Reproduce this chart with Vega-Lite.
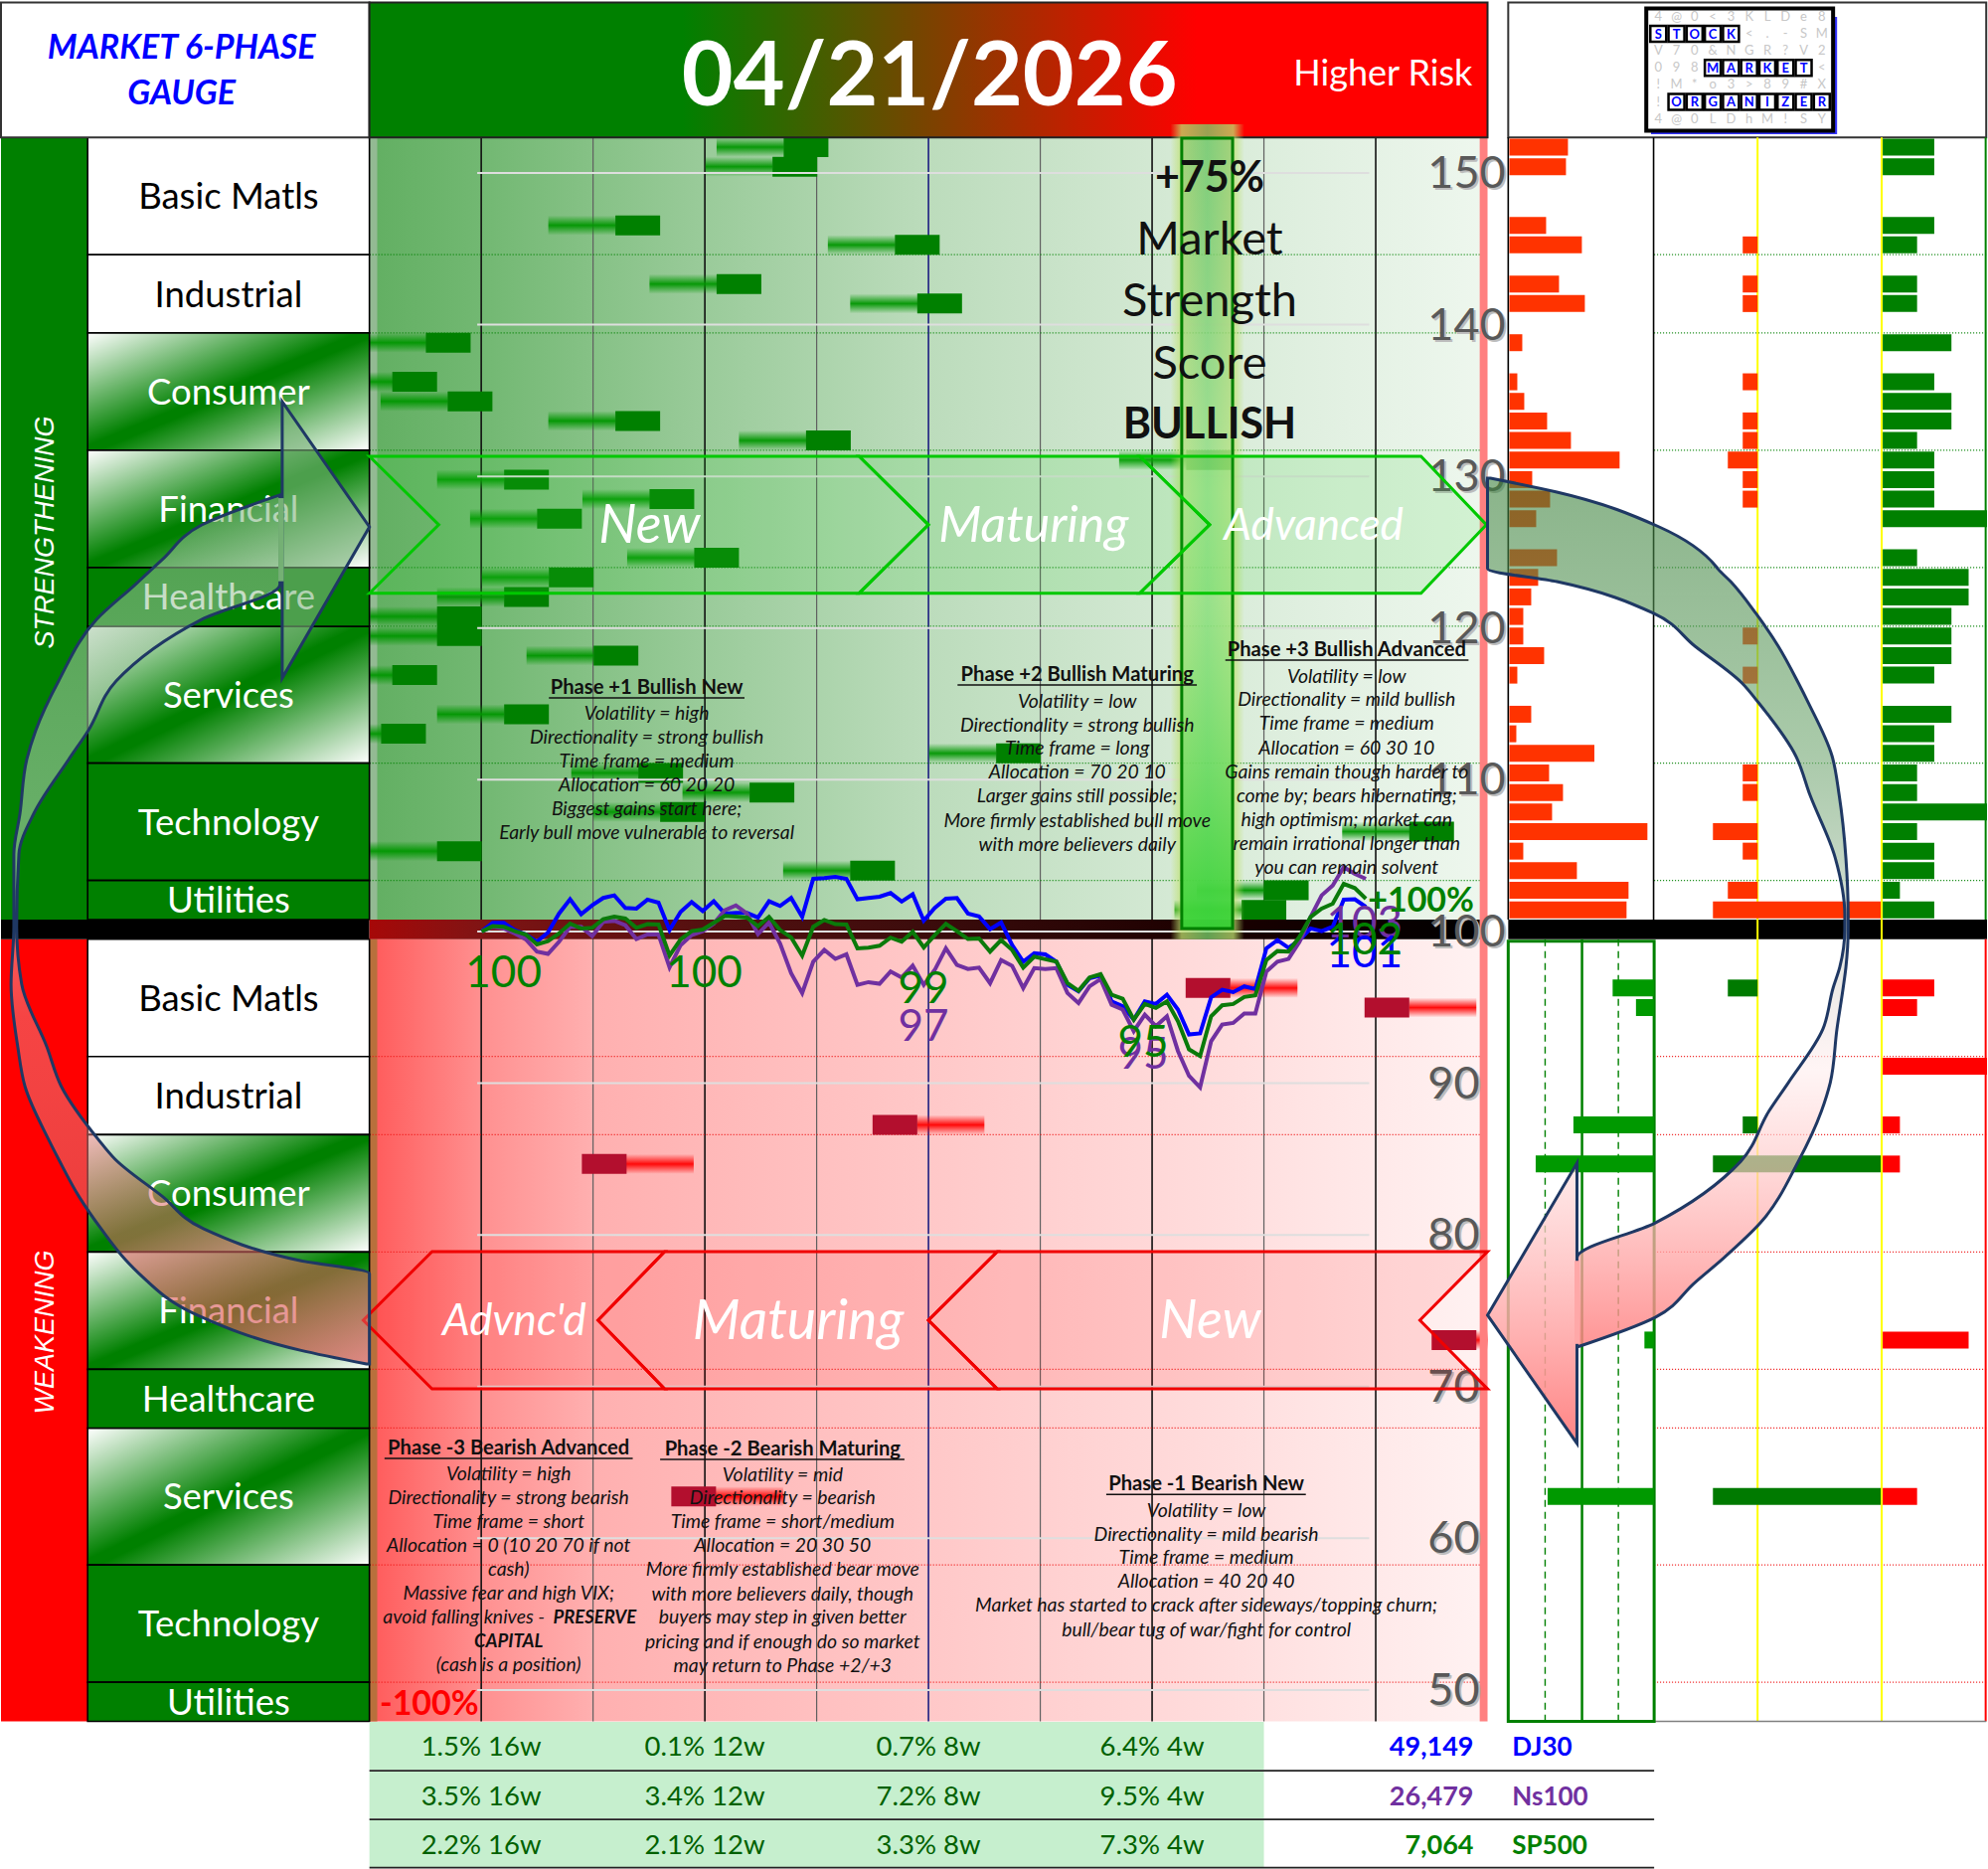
{"$schema":"https://vega.github.io/schema/vega-lite/v6.json","width":2000,"height":1880,"padding":0,"autosize":{"type":"fit","contains":"padding"},"background":"white",
"config":{"view":{"stroke":null},"axis":{"disable":true},"legend":{"disable":true},"text":{"font":"Lato","baseline":"middle","align":"center","dy":2}},
"resolve":{"scale":{"x":"independent","y":"independent"}},
"datasets":{"prices":[
{"session":0,"dj":100,"ns":100,"sp":100},{"session":1,"dj":100.57,"ns":100.31,"sp":100.35},{"session":2,"dj":100.57,"ns":100.2,"sp":100.31},{"session":3,"dj":100.09,"ns":99.87,"sp":100.02},{"session":4,"dj":99.8,"ns":99.48,"sp":99.8},{"session":5,"dj":99.32,"ns":98.67,"sp":99.15},{"session":6,"dj":99.93,"ns":98.52,"sp":99.37},{"session":7,"dj":101.18,"ns":99.32,"sp":99.87},{"session":8,"dj":102.12,"ns":100.31,"sp":100.52},{"session":9,"dj":101.14,"ns":100.31,"sp":100.2},
{"session":10,"dj":101.72,"ns":99.69,"sp":100.24},{"session":11,"dj":102.21,"ns":100.63,"sp":100.81},{"session":12,"dj":102.38,"ns":100.7,"sp":100.98},{"session":13,"dj":101.55,"ns":100.41,"sp":100.85},{"session":14,"dj":101.51,"ns":99.5,"sp":100.24},{"session":15,"dj":102.1,"ns":99.8,"sp":100.48},{"session":16,"dj":101.9,"ns":99.8,"sp":100.46},{"session":17,"dj":100.09,"ns":97.64,"sp":98.41},{"session":18,"dj":101.29,"ns":99.1,"sp":99.48},{"session":19,"dj":101.94,"ns":99.76,"sp":100.02},
{"session":20,"dj":101.35,"ns":100.02,"sp":100.13},{"session":21,"dj":101.99,"ns":100.52,"sp":100.57},{"session":22,"dj":101.18,"ns":101.4,"sp":101.03},{"session":23,"dj":101.22,"ns":101.72,"sp":100.98},{"session":24,"dj":101.22,"ns":101.18,"sp":100.92},{"session":25,"dj":100.92,"ns":99.83,"sp":100.35},{"session":26,"dj":101.99,"ns":100.59,"sp":100.96},{"session":27,"dj":101.68,"ns":99.21,"sp":100.09},{"session":28,"dj":102.21,"ns":97.25,"sp":99.61},{"session":29,"dj":100.96,"ns":95.94,"sp":98.41},
{"session":30,"dj":103.47,"ns":98.01,"sp":100.31},{"session":31,"dj":103.52,"ns":98.78,"sp":100.76},{"session":32,"dj":103.6,"ns":98.19,"sp":100.48},{"session":33,"dj":103.47,"ns":98.49,"sp":100.46},{"session":34,"dj":102.12,"ns":96.48,"sp":98.89},{"session":35,"dj":102.21,"ns":96.66,"sp":98.93},{"session":36,"dj":102.29,"ns":96.55,"sp":99.06},{"session":37,"dj":102.53,"ns":97.36,"sp":99.59},{"session":38,"dj":101.97,"ns":96.97,"sp":99.32},{"session":39,"dj":102.45,"ns":97.75,"sp":99.98},
{"session":40,"dj":100.72,"ns":96.48,"sp":98.95},{"session":41,"dj":101.55,"ns":97.47,"sp":99.76},{"session":42,"dj":102.16,"ns":98.89,"sp":100.5},{"session":43,"dj":102.21,"ns":97.79,"sp":100.02},{"session":44,"dj":101.18,"ns":97.53,"sp":99.5},{"session":45,"dj":101,"ns":97.62,"sp":99.54},{"session":46,"dj":100.15,"ns":96.59,"sp":98.67},{"session":47,"dj":100.59,"ns":98.12,"sp":99.43},{"session":48,"dj":99.1,"ns":97.73,"sp":98.78},{"session":49,"dj":98.01,"ns":96.27,"sp":97.62},
{"session":50,"dj":98.56,"ns":97.58,"sp":98.34},{"session":51,"dj":98.49,"ns":97.53,"sp":98.17},{"session":52,"dj":98.01,"ns":97.58,"sp":98.01},{"session":53,"dj":96.48,"ns":95.94,"sp":96.59},{"session":54,"dj":96.05,"ns":95.28,"sp":96.09},{"session":55,"dj":96.92,"ns":96.38,"sp":96.97},{"session":56,"dj":97.1,"ns":96.86,"sp":97.18},{"session":57,"dj":95.39,"ns":95.17,"sp":95.83},{"session":58,"dj":95.07,"ns":94.85,"sp":95.57},{"session":59,"dj":94.19,"ns":93.43,"sp":94.19},
{"session":60,"dj":95.39,"ns":94.52,"sp":95.22},{"session":61,"dj":95.22,"ns":93.76,"sp":94.96},{"session":62,"dj":95.83,"ns":94.41,"sp":95.39},{"session":63,"dj":94.85,"ns":92.12,"sp":94.08},{"session":64,"dj":93.21,"ns":90.48,"sp":92.23},{"session":65,"dj":93.28,"ns":89.72,"sp":91.79},{"session":66,"dj":95.66,"ns":92.77,"sp":94.41},{"session":67,"dj":96.16,"ns":93.86,"sp":95.13},{"session":68,"dj":96,"ns":93.97,"sp":95.22},{"session":69,"dj":96.38,"ns":94.59,"sp":95.68},
{"session":70,"dj":96.2,"ns":94.59,"sp":95.79},{"session":71,"dj":98.89,"ns":97.36,"sp":98.12},{"session":72,"dj":99.43,"ns":98.01,"sp":98.71},{"session":73,"dj":98.93,"ns":98.19,"sp":98.67},{"session":74,"dj":99.43,"ns":99.32,"sp":99.65},{"session":75,"dj":100.2,"ns":100.96,"sp":100.96},{"session":76,"dj":100.02,"ns":102.38,"sp":101.51},{"session":77,"dj":100.31,"ns":103.03,"sp":101.83},{"session":78,"dj":102.1,"ns":104.24,"sp":103.14},{"session":79,"dj":102.12,"ns":103.8,"sp":102.86},{"session":80,"dj":101.62,"ns":103.47,"sp":102.16}],
"ticks":[{"price":150,"session":-0.4,"session2":80.3,"labelAt":85.6},{"price":140,"session":-0.4,"session2":80.3,"labelAt":85.6},{"price":130,"session":-0.4,"session2":80.3,"labelAt":85.6},{"price":120,"session":-0.4,"session2":80.3,"labelAt":85.6},{"price":110,"session":-0.4,"session2":80.3,"labelAt":85.6},{"price":100,"session":-0.4,"session2":80.3,"labelAt":85.6},{"price":90,"session":-0.4,"session2":80.3,"labelAt":85.6},{"price":80,"session":-0.4,"session2":80.3,"labelAt":85.6},{"price":70,"session":-0.4,"session2":80.3,"labelAt":85.6},{"price":60,"session":-0.4,"session2":80.3,"labelAt":85.6},{"price":50,"session":-0.4,"session2":80.3,"labelAt":85.6}],
"bull":[{"slot":0,"pct":-21.9},{"slot":1,"pct":-23.9},{"slot":4,"pct":-52},{"slot":5,"pct":-2},{"slot":7,"pct":-33.9},{"slot":8,"pct":2},{"slot":10,"pct":-85.9},{"slot":12,"pct":-91.9},{"slot":13,"pct":-82},{"slot":14,"pct":-52},{"slot":15,"pct":-17.9},{"slot":16,"pct":50.1},{"slot":17,"pct":-71.9},{"slot":18,"pct":-45.9},{"slot":19,"pct":-66},{"slot":21,"pct":-37.9},{"slot":22,"pct":-63.9},{"slot":23,"pct":-71.9},{"slot":24,"pct":-83.9},{"slot":25,"pct":-83.9},{"slot":26,"pct":-55.9},{"slot":27,"pct":-91.9},{"slot":29,"pct":-71.9},{"slot":30,"pct":-93.9},{"slot":31,"pct":16.1},{"slot":32,"pct":-47.9},{"slot":33,"pct":-28},{"slot":34,"pct":-44},{"slot":35,"pct":90},{"slot":36,"pct":-83.9},{"slot":37,"pct":-10},{"slot":38,"pct":64},{"slot":39,"pct":60}],
"bear":[{"slot":43,"pct":50},{"slot":44,"pct":82},{"slot":50,"pct":-6},{"slot":52,"pct":-58},{"slot":61,"pct":94},{"slot":69,"pct":-42}],
"cells":[{"sector":"Basic Matls","half":"up","slot":-0.5,"slot2":5.5,"pct":-150.4,"pct2":-100},{"sector":"Industrial","half":"up","slot":5.5,"slot2":9.5,"pct":-150.4,"pct2":-100},{"sector":"Consumer","half":"up","slot":9.5,"slot2":15.5,"pct":-150.4,"pct2":-100},{"sector":"Financial","half":"up","slot":15.5,"slot2":21.5,"pct":-150.4,"pct2":-100},{"sector":"Healthcare","half":"up","slot":21.5,"slot2":24.5,"pct":-150.4,"pct2":-100},{"sector":"Services","half":"up","slot":24.5,"slot2":31.5,"pct":-150.4,"pct2":-100},{"sector":"Technology","half":"up","slot":31.5,"slot2":37.5,"pct":-150.4,"pct2":-100},{"sector":"Utilities","half":"up","slot":37.5,"slot2":39.5,"pct":-150.4,"pct2":-100},
{"sector":"Basic Matls","half":"down","slot":40.5,"slot2":46.5,"pct":-150.4,"pct2":-100},{"sector":"Industrial","half":"down","slot":46.5,"slot2":50.5,"pct":-150.4,"pct2":-100},{"sector":"Consumer","half":"down","slot":50.5,"slot2":56.5,"pct":-150.4,"pct2":-100},{"sector":"Financial","half":"down","slot":56.5,"slot2":62.5,"pct":-150.4,"pct2":-100},{"sector":"Healthcare","half":"down","slot":62.5,"slot2":65.5,"pct":-150.4,"pct2":-100},{"sector":"Services","half":"down","slot":65.5,"slot2":72.5,"pct":-150.4,"pct2":-100},{"sector":"Technology","half":"down","slot":72.5,"slot2":78.5,"pct":-150.4,"pct2":-100},{"sector":"Utilities","half":"down","slot":78.5,"slot2":80.5,"pct":-150.4,"pct2":-100}],
"cellLabels":[{"sector":"Basic Matls","slot":2.5,"pct":-125.2},{"sector":"Industrial","slot":7.5,"pct":-125.2},{"sector":"Consumer","slot":12.5,"pct":-125.2},{"sector":"Financial","slot":18.5,"pct":-125.2},{"sector":"Healthcare","slot":23,"pct":-125.2},{"sector":"Services","slot":28,"pct":-125.2},{"sector":"Technology","slot":34.5,"pct":-125.2},{"sector":"Utilities","slot":38.5,"pct":-125.2},{"sector":"Basic Matls","slot":43.5,"pct":-125.2},{"sector":"Industrial","slot":48.5,"pct":-125.2},{"sector":"Consumer","slot":53.5,"pct":-125.2},{"sector":"Financial","slot":59.5,"pct":-125.2},{"sector":"Healthcare","slot":64,"pct":-125.2},{"sector":"Services","slot":69,"pct":-125.2},{"sector":"Technology","slot":75.5,"pct":-125.2},{"sector":"Utilities","slot":79.5,"pct":-125.2}]
},
"layer":[
{"encoding":{"x":{"field":"pct","type":"quantitative","scale":{"domain":[-165.9,189.34],"nice":false,"zero":false}},"x2":{"field":"pct2"},"y":{"field":"slot","type":"quantitative","scale":{"domain":[88.05,-7.524],"nice":false,"zero":false}},"y2":{"field":"slot2"}},
"layer":[
{"data":{"values":[{"pct":-100,"pct2":100,"slot":-0.5,"slot2":39.5}]},"mark":{"type":"rect","fill":{"gradient":"linear","x1":0,"y1":0,"x2":1,"y2":0,"stops":[{"offset":0,"color":"#62af62"},{"offset":0.1,"color":"#72b872"},{"offset":0.3,"color":"#9acb9a"},{"offset":0.5,"color":"#bcdcbc"},{"offset":0.75,"color":"#d8ebd8"},{"offset":1,"color":"#eef7ee"}]}}},
{"data":{"values":[{"pct":-100,"pct2":100,"slot":40.5,"slot2":80.5}]},"mark":{"type":"rect","fill":{"gradient":"linear","x1":0,"y1":0,"x2":1,"y2":0,"stops":[{"offset":0,"color":"#ff5a5a"},{"offset":0.1,"color":"#ff9090"},{"offset":0.2,"color":"#ffb0b0"},{"offset":0.5,"color":"#ffc8c8"},{"offset":0.75,"color":"#ffdcdc"},{"offset":1,"color":"#fff2f2"}]}}},
{"data":{"values":[{"pct":-100,"pct2":-98.6,"slot":-0.5,"slot2":39.5}]},"mark":{"type":"rect","fill":"#93ba93"}},
{"data":{"values":[{"pct":-100,"pct2":-98.6,"slot":40.5,"slot2":80.5}]},"mark":{"type":"rect","fill":"#b8703c"}},
{"data":{"values":[{"pct":-80,"slot":-0.5,"slot2":80.5},{"pct":-40,"slot":-0.5,"slot2":80.5},{"pct":40,"slot":-0.5,"slot2":80.5},{"pct":80,"slot":-0.5,"slot2":80.5}]},"mark":{"type":"rule","color":"#101010","strokeWidth":1.6},"encoding":{"x2":null}},
{"data":{"values":[{"pct":-60,"slot":-0.5,"slot2":80.5},{"pct":-20,"slot":-0.5,"slot2":80.5},{"pct":20,"slot":-0.5,"slot2":80.5},{"pct":60,"slot":-0.5,"slot2":80.5}]},"mark":{"type":"rule","color":"#606060","strokeWidth":1.2},"encoding":{"x2":null}},
{"data":{"values":[{"pct":0,"slot":-0.5,"slot2":80.5}]},"mark":{"type":"rule","color":"#1c1c80","strokeWidth":1.6},"encoding":{"x2":null}},
{"data":{"values":[{"slot":5.5,"pct":-100,"pct2":100},{"slot":9.5,"pct":-100,"pct2":100},{"slot":15.5,"pct":-100,"pct2":100},{"slot":21.5,"pct":-100,"pct2":100},{"slot":24.5,"pct":-100,"pct2":100},{"slot":31.5,"pct":-100,"pct2":100},{"slot":37.5,"pct":-100,"pct2":100}]},"mark":{"type":"rule","color":"#008000","strokeWidth":1.2,"strokeDash":[1,2]},"encoding":{"y2":null}},
{"data":{"values":[{"slot":46.5,"pct":-100,"pct2":100},{"slot":50.5,"pct":-100,"pct2":100},{"slot":56.5,"pct":-100,"pct2":100},{"slot":62.5,"pct":-100,"pct2":100},{"slot":65.5,"pct":-100,"pct2":100},{"slot":72.5,"pct":-100,"pct2":100},{"slot":78.5,"pct":-100,"pct2":100}]},"mark":{"type":"rule","color":"#ee1111","strokeWidth":1.2,"strokeDash":[1,2]},"encoding":{"y2":null}},
{"data":{"name":"bull"},"mark":{"type":"rect","xOffset":-90,"x2Offset":-22,"yOffset":-10,"y2Offset":10,"fill":{"gradient":"linear","x1":0,"y1":0,"x2":0,"y2":1,"stops":[{"offset":0,"color":"rgba(0,150,0,0)"},{"offset":0.5,"color":"rgba(0,150,0,0.95)"},{"offset":1,"color":"rgba(0,150,0,0)"}]}},"encoding":{"x2":{"field":"pct"},"y2":{"field":"slot"}}},
{"data":{"name":"bull"},"mark":{"type":"rect","fill":"#008000","xOffset":-22.5,"x2Offset":22.5,"yOffset":-10,"y2Offset":10},"encoding":{"x2":{"field":"pct"},"y2":{"field":"slot"}}},
{"data":{"name":"bear"},"mark":{"type":"rect","xOffset":22,"x2Offset":90,"yOffset":-10,"y2Offset":10,"fill":{"gradient":"linear","x1":0,"y1":0,"x2":0,"y2":1,"stops":[{"offset":0,"color":"rgba(255,0,0,0)"},{"offset":0.5,"color":"rgba(255,0,0,0.95)"},{"offset":1,"color":"rgba(255,0,0,0)"}]}},"encoding":{"x2":{"field":"pct"},"y2":{"field":"slot"}}},
{"data":{"name":"bear"},"mark":{"type":"rect","fill":"#b30f2e","xOffset":-22.5,"x2Offset":22.5,"yOffset":-10,"y2Offset":10},"encoding":{"x2":{"field":"pct"},"y2":{"field":"slot"}}},
{"data":{"values":[{"pct":100,"pct2":189.34,"slot":-0.5,"slot2":80.5}]},"mark":{"type":"rect","fill":"white"}},
{"data":{"values":[{"pct":98.6,"pct2":100,"slot":-0.5,"slot2":80.5}]},"mark":{"type":"rect","fill":"#ff8080"}},
{"data":{"values":[{"slot":5.5,"pct":129.8,"pct2":189.34},{"slot":9.5,"pct":129.8,"pct2":189.34},{"slot":15.5,"pct":129.8,"pct2":189.34},{"slot":21.5,"pct":129.8,"pct2":189.34},{"slot":24.5,"pct":129.8,"pct2":189.34},{"slot":31.5,"pct":129.8,"pct2":189.34},{"slot":37.5,"pct":129.8,"pct2":189.34}]},"mark":{"type":"rule","color":"#008000","strokeWidth":1.2,"strokeDash":[1,2]},"encoding":{"y2":null}},
{"data":{"values":[{"slot":46.5,"pct":129.8,"pct2":189.34},{"slot":50.5,"pct":129.8,"pct2":189.34},{"slot":56.5,"pct":129.8,"pct2":189.34},{"slot":62.5,"pct":129.8,"pct2":189.34},{"slot":65.5,"pct":129.8,"pct2":189.34},{"slot":72.5,"pct":129.8,"pct2":189.34},{"slot":78.5,"pct":129.8,"pct2":189.34}]},"mark":{"type":"rule","color":"#ee1111","strokeWidth":1.2,"strokeDash":[1,2]},"encoding":{"y2":null}},
{"data":{"values":[{"pct":-165.9,"pct2":-150.4,"slot":-0.5,"slot2":39.5}]},"mark":{"type":"rect","fill":"#008000"}},
{"data":{"values":[{"pct":-165.9,"pct2":-150.4,"slot":40.5,"slot2":80.5}]},"mark":{"type":"rect","fill":"#ff0000"}},
{"data":{"name":"cells"},"transform":[{"filter":{"field":"sector","oneOf":["Basic Matls","Industrial"]}}],"mark":{"type":"rect","fill":"white","stroke":"black","strokeWidth":1.6}},
{"data":{"name":"cells"},"transform":[{"filter":{"field":"sector","oneOf":["Consumer","Financial","Services"]}}],"mark":{"type":"rect","stroke":"black","strokeWidth":1.6,"fill":{"gradient":"linear","x1":0,"y1":0,"x2":1,"y2":1,"stops":[{"offset":0,"color":"#ffffff"},{"offset":0.48,"color":"#008000"},{"offset":0.52,"color":"#008000"},{"offset":1,"color":"#ffffff"}]}}},
{"data":{"name":"cells"},"transform":[{"filter":{"field":"sector","oneOf":["Healthcare","Technology","Utilities"]}}],"mark":{"type":"rect","fill":"#008000","stroke":"black","strokeWidth":1.6}},
{"data":{"name":"cellLabels"},"transform":[{"filter":{"field":"sector","oneOf":["Basic Matls","Industrial"]}}],"mark":{"type":"text","fontSize":36.5,"color":"black"},"encoding":{"text":{"field":"sector"},"x2":null,"y2":null}},
{"data":{"name":"cellLabels"},"transform":[{"filter":{"field":"sector","oneOf":["Consumer","Financial","Services","Healthcare","Technology","Utilities"]}}],"mark":{"type":"text","fontSize":36.5,"color":"white"},"encoding":{"text":{"field":"sector"},"x2":null,"y2":null}},
{"data":{"values":[{"pct":-165.9,"pct2":-100,"slot":-7.4,"slot2":-0.5}]},"mark":{"type":"rect","fill":"white","stroke":"#333333","strokeWidth":2}},
{"data":{"values":[{"pct":-100,"pct2":100,"slot":-7.4,"slot2":-0.5}]},"mark":{"type":"rect","stroke":"#222222","strokeWidth":2,"fill":{"gradient":"linear","x1":0,"y1":0,"x2":1,"y2":0,"stops":[{"offset":0,"color":"#008000"},{"offset":0.28,"color":"#008000"},{"offset":0.74,"color":"#ff0000"},{"offset":1,"color":"#ff0000"}]}}},
{"data":{"values":[{"pct":103.7,"pct2":189.2,"slot":-7.4,"slot2":-0.5}]},"mark":{"type":"rect","fill":"white","stroke":"#333333","strokeWidth":2}},
{"data":{"values":[{"pct":-165.9,"pct2":-100,"slot":39.5,"slot2":40.5},{"pct":103.7,"pct2":189.34,"slot":39.5,"slot2":40.5}]},"mark":{"type":"rect","fill":"black"}},
{"data":{"values":[{"pct":-100,"pct2":98.6,"slot":39.5,"slot2":40.5}]},"mark":{"type":"rect","fill":{"gradient":"linear","x1":0,"y1":0,"x2":1,"y2":0,"stops":[{"offset":0,"color":"#a60808"},{"offset":0.1,"color":"#801414"},{"offset":0.3,"color":"#541010"},{"offset":0.5,"color":"#3c0c0c"},{"offset":0.75,"color":"#1c0000"},{"offset":1,"color":"#000000"}]}}},
{"data":{"values":[{"pct":103.7,"slot":-0.5,"slot2":39.5},{"pct":129.7,"slot":-0.5,"slot2":39.5}]},"mark":{"type":"rule","color":"black","strokeWidth":1.6},"encoding":{"x2":null}},
{"data":{"values":[{"pct":148.3,"slot":-0.5,"slot2":80.5},{"pct":170.5,"slot":-0.5,"slot2":80.5}]},"mark":{"type":"rule","color":"#ffff00","strokeWidth":2},"encoding":{"x2":null}},
{"data":{"values":[{"pct":189.1,"slot":-0.5,"slot2":39.5}]},"mark":{"type":"rule","color":"#008000","strokeWidth":2},"encoding":{"x2":null}},
{"data":{"values":[{"pct":189.1,"slot":40.5,"slot2":80.5}]},"mark":{"type":"rule","color":"#ff0000","strokeWidth":2},"encoding":{"x2":null}},
{"data":{"values":[{"pct":129.8,"pct2":189.2,"slot":80.5}]},"mark":{"type":"rule","color":"#808080","strokeWidth":1.6},"encoding":{"y2":null}},
{"data":{"values":[{"pct":110.3,"slot":40.5,"slot2":80.5},{"pct":123.4,"slot":40.5,"slot2":80.5}]},"mark":{"type":"rule","color":"#008000","strokeWidth":1.4,"strokeDash":[7,5]},"encoding":{"x2":null}},
{"data":{"values":[{"pct":116.9,"slot":40.5,"slot2":80.5}]},"mark":{"type":"rule","color":"#008000","strokeWidth":2.5},"encoding":{"x2":null}},
{"data":{"values":[{"pct":103.7,"pct2":129.8,"slot":40.6,"slot2":80.5}]},"mark":{"type":"rect","fill":null,"stroke":"#008000","strokeWidth":3}},
{"data":{"values":[{"pct":-100,"pct2":60,"slot":80.53,"slot2":82.97},{"pct":-100,"pct2":60,"slot":83.07,"slot2":85.46},{"pct":-100,"pct2":60,"slot":85.56,"slot2":87.95}]},"mark":{"type":"rect","fill":"#c6efce"}},
{"data":{"values":[{"slot":83.02,"pct":-100,"pct2":129.8},{"slot":85.51,"pct":-100,"pct2":129.8},{"slot":87.98,"pct":-100,"pct2":129.8}]},"mark":{"type":"rule","color":"#222222","strokeWidth":1.8},"encoding":{"y2":null}}
]},
{"encoding":{"x":{"field":"session","type":"quantitative","scale":{"domain":[-43.49,136.2],"nice":false,"zero":false}},"y":{"field":"price","type":"quantitative","scale":{"domain":[38.2,161.4],"nice":false,"zero":false}}},
"layer":[
{"data":{"name":"ticks"},"mark":{"type":"rule","color":"#dedede","strokeWidth":2},"encoding":{"x2":{"field":"session2"}}},
{"data":{"name":"prices"},"mark":{"type":"line","color":"#0000ff","strokeWidth":4},"encoding":{"y":{"field":"dj","type":"quantitative","scale":{"domain":[38.2,161.4],"nice":false,"zero":false}}}},
{"data":{"name":"prices"},"mark":{"type":"line","color":"#7030a0","strokeWidth":4},"encoding":{"y":{"field":"ns","type":"quantitative","scale":{"domain":[38.2,161.4],"nice":false,"zero":false}}}},
{"data":{"name":"prices"},"mark":{"type":"line","color":"#0a7a0a","strokeWidth":4},"encoding":{"y":{"field":"sp","type":"quantitative","scale":{"domain":[38.2,161.4],"nice":false,"zero":false}}}},
{"data":{"name":"ticks"},"mark":{"type":"text","align":"left","fontSize":45,"color":"#bdbdbd","dx":2,"dy":3},"encoding":{"x":{"field":"labelAt","type":"quantitative","scale":{"domain":[-43.49,136.2],"nice":false,"zero":false}},"text":{"field":"price"}}},
{"data":{"name":"ticks"},"mark":{"type":"text","align":"left","fontSize":45,"color":"#595959","dy":1},"encoding":{"x":{"field":"labelAt","type":"quantitative","scale":{"domain":[-43.49,136.2],"nice":false,"zero":false}},"text":{"field":"price"}}}
]},
{"encoding":{"x":{"field":"reading","type":"quantitative","scale":{"domain":[-759.5,240.5],"nice":false,"zero":false},"stack":null},"y":{"field":"slot","type":"quantitative","scale":{"domain":[88.05,-7.524],"nice":false,"zero":false,"padding":0}}},
"layer":[{"data":{"values":[{"slot":0,"reading":29.5},{"slot":1,"reading":28.5},{"slot":4,"reading":18.5},{"slot":5,"reading":36.5},{"slot":7,"reading":25},{"slot":8,"reading":38},{"slot":10,"reading":6.5},{"slot":12,"reading":4},{"slot":13,"reading":7.5},{"slot":14,"reading":19},{"slot":15,"reading":31},{"slot":16,"reading":55.5},{"slot":17,"reading":11.5},{"slot":18,"reading":20.5},{"slot":19,"reading":13.5},{"slot":21,"reading":24},{"slot":22,"reading":14.5},{"slot":23,"reading":11},{"slot":24,"reading":7},{"slot":25,"reading":7},{"slot":26,"reading":17.5},{"slot":27,"reading":4},{"slot":29,"reading":11},{"slot":30,"reading":3.5},{"slot":31,"reading":42.8},{"slot":32,"reading":20},{"slot":33,"reading":27},{"slot":34,"reading":21.5},{"slot":35,"reading":69.5},{"slot":36,"reading":7},{"slot":37,"reading":34},{"slot":38,"reading":60},{"slot":39,"reading":59}]},"mark":{"type":"bar","orient":"horizontal","height":17,"fill":"#ff3300"}}]},
{"encoding":{"x":{"field":"reading","type":"quantitative","scale":{"domain":[-832.25,167.75],"nice":false,"zero":false},"stack":null},"y":{"field":"slot","type":"quantitative","scale":{"domain":[88.05,-7.524],"nice":false,"zero":false,"padding":0}}},
"layer":[{"data":{"values":[{"slot":43,"reading":-20.75},{"slot":44,"reading":-9},{"slot":50,"reading":-40.5},{"slot":52,"reading":-59.5},{"slot":61,"reading":-4.75},{"slot":69,"reading":-53.5}]},"mark":{"type":"bar","orient":"horizontal","height":17,"fill":"#009900"}}]},
{"encoding":{"x":{"field":"low","type":"quantitative","scale":{"domain":[-117.93,15.4],"nice":false,"zero":false}},"x2":{"field":"high"},"y":{"field":"slot","type":"quantitative","scale":{"domain":[88.05,-7.524],"nice":false,"zero":false}},"y2":{"field":"slot"}},
"layer":[
{"data":{"values":[{"slot":5,"low":-1,"high":0},{"slot":7,"low":-1,"high":0},{"slot":8,"low":-1,"high":0},{"slot":12,"low":-1,"high":0},{"slot":14,"low":-1,"high":0},{"slot":15,"low":-1,"high":0},{"slot":16,"low":-2,"high":0},{"slot":17,"low":-1,"high":0},{"slot":18,"low":-1,"high":0},{"slot":25,"low":-1,"high":0},{"slot":27,"low":-1,"high":0},{"slot":32,"low":-1,"high":0},{"slot":33,"low":-1,"high":0},{"slot":35,"low":-3,"high":0},{"slot":36,"low":-1,"high":0},{"slot":38,"low":-2,"high":0},{"slot":39,"low":-3,"high":8.27}]},"mark":{"type":"rect","fill":"#ff3300","yOffset":-8.5,"y2Offset":8.5}},
{"data":{"values":[{"slot":43,"low":-2,"high":0},{"slot":50,"low":-1,"high":0},{"slot":52,"low":-3,"high":8.27},{"slot":69,"low":-3,"high":8.27}]},"mark":{"type":"rect","fill":"#007a00","yOffset":-8.5,"y2Offset":8.5}}
]},
{"encoding":{"x":{"field":"reading","type":"quantitative","scale":{"domain":[-109.54,6.07],"nice":false,"zero":false},"stack":null},"y":{"field":"slot","type":"quantitative","scale":{"domain":[88.05,-7.524],"nice":false,"zero":false,"padding":0}}},
"layer":[
{"data":{"values":[{"slot":0,"reading":3},{"slot":1,"reading":3},{"slot":4,"reading":3},{"slot":5,"reading":2},{"slot":7,"reading":2},{"slot":8,"reading":2},{"slot":10,"reading":4},{"slot":12,"reading":3},{"slot":13,"reading":4},{"slot":14,"reading":4},{"slot":15,"reading":2},{"slot":16,"reading":3},{"slot":17,"reading":3},{"slot":18,"reading":3},{"slot":19,"reading":6.07},{"slot":21,"reading":2},{"slot":22,"reading":5},{"slot":23,"reading":5},{"slot":24,"reading":4},{"slot":25,"reading":4},{"slot":26,"reading":4},{"slot":27,"reading":3},{"slot":29,"reading":4},{"slot":30,"reading":3},{"slot":31,"reading":3},{"slot":32,"reading":2},{"slot":33,"reading":2},{"slot":34,"reading":6.07},{"slot":35,"reading":2},{"slot":36,"reading":3},{"slot":37,"reading":3},{"slot":38,"reading":1},{"slot":39,"reading":3}]},"mark":{"type":"bar","orient":"horizontal","height":17,"fill":"#008000"}},
{"data":{"values":[{"slot":43,"reading":3},{"slot":44,"reading":2},{"slot":47,"reading":6.07},{"slot":50,"reading":1},{"slot":52,"reading":1},{"slot":61,"reading":5},{"slot":69,"reading":2}]},"mark":{"type":"bar","orient":"horizontal","height":17,"fill":"#ff0000"}}
]},
{"encoding":{"x":{"field":"pct","type":"quantitative","scale":{"domain":[-165.9,189.34],"nice":false,"zero":false}},"x2":{"field":"pct2"},"y":{"field":"slot","type":"quantitative","scale":{"domain":[88.05,-7.524],"nice":false,"zero":false}},"y2":{"field":"slot2"}},
"layer":[
{"data":{"values":[{"pct":43.3,"pct2":56.5,"slot":-1.17,"slot2":40.5}]},"mark":{"type":"rect","fill":{"gradient":"linear","x1":0,"y1":0,"x2":1,"y2":0,"stops":[{"offset":0,"color":"rgba(190,225,110,0)"},{"offset":0.15,"color":"rgba(190,225,110,0.75)"},{"offset":0.5,"color":"rgba(120,215,110,0.75)"},{"offset":0.85,"color":"rgba(190,225,110,0.75)"},{"offset":1,"color":"rgba(190,225,110,0)"}]}}},
{"data":{"values":[{"pct":45.3,"pct2":54.4,"slot":-0.46,"slot2":39.96}]},"mark":{"type":"rect","stroke":"#008000","strokeWidth":3,"fill":{"gradient":"linear","x1":0,"y1":0,"x2":0,"y2":1,"stops":[{"offset":0,"color":"rgba(90,170,90,0.3)"},{"offset":0.45,"color":"rgba(190,235,170,0.4)"},{"offset":1,"color":"rgba(50,210,50,0.9)"}]}}},
{"data":{"values":[{"pct":-50.4,"slot":28.98,"t":"Volatility = high"},{"pct":-50.4,"slot":30.2,"t":"Directionality = strong bullish"},{"pct":-50.4,"slot":31.42,"t":"Time frame = medium"},{"pct":-50.4,"slot":32.64,"t":"Allocation = 60 20 20"},{"pct":-50.4,"slot":33.86,"t":"Biggest gains start here;"},{"pct":-50.4,"slot":35.08,"t":"Early bull move vulnerable to reversal"},
{"pct":26.6,"slot":28.37,"t":"Volatility = low"},{"pct":26.6,"slot":29.59,"t":"Directionality = strong bullish"},{"pct":26.6,"slot":30.76,"t":"Time frame = long"},{"pct":26.6,"slot":31.98,"t":"Allocation = 70 20 10"},{"pct":26.6,"slot":33.2,"t":"Larger gains still possible;"},{"pct":26.6,"slot":34.47,"t":"More firmly established bull move"},{"pct":26.6,"slot":35.69,"t":"with more believers daily"},
{"pct":74.8,"slot":27.1,"t":"Volatility = low"},{"pct":74.8,"slot":28.29,"t":"Directionality = mild bullish"},{"pct":74.8,"slot":29.51,"t":"Time frame = medium"},{"pct":74.8,"slot":30.74,"t":"Allocation = 60 30 10"},{"pct":74.8,"slot":31.98,"t":"Gains remain though harder to"},{"pct":74.8,"slot":33.22,"t":"come by; bears hibernating;"},{"pct":74.8,"slot":34.42,"t":"high optimism; market can"},{"pct":74.8,"slot":35.64,"t":"remain irrational longer than"},{"pct":74.8,"slot":36.86,"t":"you can remain solvent"},
{"pct":-75.1,"slot":67.87,"t":"Volatility = high"},{"pct":-75.1,"slot":69.07,"t":"Directionality = strong bearish"},{"pct":-75.1,"slot":70.29,"t":"Time frame = short"},{"pct":-75.1,"slot":71.53,"t":"Allocation = 0 (10 20 70 if not"},{"pct":-75.1,"slot":72.74,"t":"cash)"},{"pct":-75.1,"slot":73.97,"t":"Massive fear and high VIX;"},{"pct":-83.1,"slot":75.18,"t":"avoid falling knives - "},{"pct":-75.1,"slot":77.62,"t":"(cash is a position)"},
{"pct":-26.1,"slot":67.9,"t":"Volatility = mid"},{"pct":-26.1,"slot":69.1,"t":"Directionality = bearish"},{"pct":-26.1,"slot":70.33,"t":"Time frame = short/medium"},{"pct":-26.1,"slot":71.55,"t":"Allocation = 20 30 50"},{"pct":-26.1,"slot":72.77,"t":"More firmly established bear move"},{"pct":-26.1,"slot":74,"t":"with more believers daily, though"},{"pct":-26.1,"slot":75.2,"t":"buyers may step in given better"},{"pct":-26.1,"slot":76.45,"t":"pricing and if enough do so market"},{"pct":-26.1,"slot":77.68,"t":"may return to Phase +2/+3"},
{"pct":49.7,"slot":69.73,"t":"Volatility = low"},{"pct":49.7,"slot":70.95,"t":"Directionality = mild bearish"},{"pct":49.7,"slot":72.14,"t":"Time frame = medium"},{"pct":49.7,"slot":73.36,"t":"Allocation = 40 20 40"},{"pct":49.7,"slot":74.58,"t":"Market has started to crack after sideways/topping churn;"},{"pct":49.7,"slot":75.85,"t":"bull/bear tug of war/fight for control"}]},"mark":{"type":"text","fontSize":19.4,"fontStyle":"italic","color":"#111111","dy":0},"encoding":{"text":{"field":"t"},"x2":null,"y2":null}},
{"data":{"values":[{"pct":-59.7,"slot":75.18,"t":"PRESERVE"},{"pct":-75.1,"slot":76.4,"t":"CAPITAL"}]},"mark":{"type":"text","fontSize":18.5,"fontStyle":"italic","fontWeight":"bold","color":"#111111","dy":0},"encoding":{"text":{"field":"t"},"x2":null,"y2":null}},
{"data":{"values":[{"pct":-50.4,"slot":27.66,"t":"Phase +1 Bullish New"},{"pct":26.6,"slot":27,"t":"Phase +2 Bullish Maturing"},{"pct":74.8,"slot":25.72,"t":"Phase +3 Bullish Advanced"},{"pct":-75.1,"slot":66.55,"t":"Phase -3 Bearish Advanced"},{"pct":-26.1,"slot":66.6,"t":"Phase -2 Bearish Maturing"},{"pct":49.7,"slot":68.38,"t":"Phase -1 Bearish New"}]},"mark":{"type":"text","fontSize":20.2,"fontWeight":"bold","color":"#111111","dy":0},"encoding":{"text":{"field":"t"},"x2":null,"y2":null}},
{"data":{"values":[{"pct":-67.9,"pct2":-32.9,"slot":28.16},{"pct":5.2,"pct2":48,"slot":27.5},{"pct":53.1,"pct2":96.6,"slot":26.23},{"pct":-97.3,"pct2":-52.9,"slot":67.06},{"pct":-48,"pct2":-4.3,"slot":67.11},{"pct":31.8,"pct2":67.5,"slot":68.9}]},"mark":{"type":"rule","color":"#111111","strokeWidth":1.5},"encoding":{"y2":null}},
{"data":{"values":[{"shape":"New","slot":15.81,"pct":-100,"pct2":-12.4},{"shape":"New","slot":19.31,"pct":-87.6,"pct2":0},{"shape":"New","slot":22.81,"pct":-100,"pct2":-12.4},{"shape":"Maturing","slot":15.81,"pct":-12.4,"pct2":37.8},{"shape":"Maturing","slot":19.31,"pct":0,"pct2":50.3},{"shape":"Maturing","slot":22.81,"pct":-12.4,"pct2":37.8},{"shape":"Advanced","slot":15.81,"pct":37.8,"pct2":88.1},{"shape":"Advanced","slot":19.31,"pct":50.3,"pct2":99.8},{"shape":"Advanced","slot":22.81,"pct":37.8,"pct2":88.1}]},"mark":{"type":"area","orient":"horizontal","fill":"rgba(50,210,50,0.14)","stroke":"#00c800","strokeWidth":3},"encoding":{"detail":{"field":"shape"},"y2":null}},
{"data":{"values":[{"shape":"Advnc'd","slot":56.48,"pct":-88.8,"pct2":-47.2},{"shape":"Advnc'd","slot":59.99,"pct":-101.1,"pct2":-59.1},{"shape":"Advnc'd","slot":63.5,"pct":-88.8,"pct2":-47.2},{"shape":"Maturing","slot":56.48,"pct":-47.2,"pct2":12.3},{"shape":"Maturing","slot":59.99,"pct":-59.1,"pct2":0},{"shape":"Maturing","slot":63.5,"pct":-47.2,"pct2":12.3},{"shape":"New","slot":56.48,"pct":12.3,"pct2":100},{"shape":"New","slot":59.99,"pct":0,"pct2":87.9},{"shape":"New","slot":63.5,"pct":12.3,"pct2":100}]},"mark":{"type":"area","orient":"horizontal","fill":"rgba(255,0,0,0.1)","stroke":"#f00000","strokeWidth":3},"encoding":{"detail":{"field":"shape"},"y2":null}},
{"data":{"values":[{"pct":-49.9,"slot":19.31,"t":"New"},{"pct":50.4,"slot":59.99,"t":"New"}]},"mark":{"type":"text","fontSize":54,"fontStyle":"italic","color":"white"},"encoding":{"text":{"field":"t"},"x2":null,"y2":null}},
{"data":{"values":[{"pct":18.8,"slot":19.31,"t":"Maturing"}]},"mark":{"type":"text","fontSize":50,"fontStyle":"italic","color":"white"},"encoding":{"text":{"field":"t"},"x2":null,"y2":null}},
{"data":{"values":[{"pct":68.9,"slot":19.31,"t":"Advanced"}]},"mark":{"type":"text","fontSize":44,"fontStyle":"italic","color":"white"},"encoding":{"text":{"field":"t"},"x2":null,"y2":null}},
{"data":{"values":[{"pct":-74.1,"slot":59.99,"t":"Advnc'd"}]},"mark":{"type":"text","fontSize":44,"fontStyle":"italic","color":"white"},"encoding":{"text":{"field":"t"},"x2":null,"y2":null}},
{"data":{"values":[{"pct":-23.3,"slot":59.99,"t":"Maturing"}]},"mark":{"type":"text","fontSize":55.5,"fontStyle":"italic","color":"white"},"encoding":{"text":{"field":"t"},"x2":null,"y2":null}},
{"data":{"values":[{"pct":50.3,"slot":4.68,"t":"Market"},{"pct":50.3,"slot":7.83,"t":"Strength"},{"pct":50.3,"slot":11.03,"t":"Score"}]},"mark":{"type":"text","fontSize":47,"color":"#111111"},"encoding":{"text":{"field":"t"},"x2":null,"y2":null}},
{"data":{"values":[{"pct":50.3,"slot":1.53,"t":"+75%"},{"pct":50.3,"slot":14.13,"t":"BULLISH"}]},"mark":{"type":"text","fontSize":43,"fontWeight":"bold","color":"#111111"},"encoding":{"text":{"field":"t"},"x2":null,"y2":null}},
{"data":{"values":[{"pct":-76,"slot":42.2,"t":"100","series":"SP500"},{"pct":-40.1,"slot":42.2,"t":"100","series":"SP500"},{"pct":-0.9,"slot":43,"t":"99","series":"SP500"},{"pct":-0.9,"slot":44.94,"t":"97","series":"Ns100"},{"pct":38.4,"slot":46.37,"t":"95","series":"Ns100"},{"pct":38.4,"slot":45.76,"t":"95","series":"SP500"},{"pct":78,"slot":39.65,"t":"103","series":"Ns100"},{"pct":78,"slot":41.18,"t":"101","series":"DJ30"},{"pct":78,"slot":40.52,"t":"102","series":"SP500"}]},"mark":{"type":"text","fontSize":44},"encoding":{"text":{"field":"t"},"x2":null,"y2":null,"color":{"field":"series","scale":{"domain":["DJ30","Ns100","SP500"],"range":["#0000ff","#7030a0","#008000"]},"legend":null}}},
{"data":{"values":[{"pct":88.1,"slot":38.48,"t":"+100%"}]},"mark":{"type":"text","fontSize":34,"fontWeight":"bold","color":"#008000"},"encoding":{"text":{"field":"t"},"x2":null,"y2":null}},
{"data":{"values":[{"pct":-89.3,"slot":79.56,"t":"-100%"}]},"mark":{"type":"text","fontSize":34,"fontWeight":"bold","color":"#ff0000"},"encoding":{"text":{"field":"t"},"x2":null,"y2":null}},
{"data":{"values":[{"slot":16.93,"pct":100,"pct2":100.5},{"slot":17.64,"pct":100,"pct2":112.4},{"slot":19.42,"pct":100,"pct2":130.7},{"slot":21.45,"pct":100,"pct2":140.9},{"slot":21.56,"pct":100,"pct2":141.2},{"slot":22.22,"pct":112.4,"pct2":143.5},{"slot":23.84,"pct":129.7,"pct2":148},{"slot":25.52,"pct":137.1,"pct2":152},{"slot":27.4,"pct":145.5,"pct2":155.6},{"slot":28.42,"pct":148.5,"pct2":157.4},{"slot":31.11,"pct":155.1,"pct2":161.6},{"slot":33.15,"pct":157.7,"pct2":162.9},{"slot":36.35,"pct":162.2,"pct2":164.1},{"slot":39.25,"pct":163.9,"pct2":164.5},{"slot":40.01,"pct":163.9,"pct2":164.5},{"slot":41.94,"pct":163,"pct2":164.1},{"slot":43.01,"pct":161.8,"pct2":163.6},{"slot":45.09,"pct":160,"pct2":162.5},{"slot":47.84,"pct":153.8,"pct2":161.3},{"slot":49.31,"pct":150.3,"pct2":159.7},{"slot":51.86,"pct":145.3,"pct2":155.6},{"slot":55.01,"pct":130,"pct2":148.8},{"slot":56.79,"pct":116,"pct2":142.3},{"slot":58.06,"pct":116,"pct2":137.1},{"slot":59.84,"pct":116,"pct2":130},{"slot":61.36,"pct":116,"pct2":116}]},"mark":{"type":"area","orient":"horizontal","interpolate":"monotone","stroke":"#1f3864","strokeWidth":3,"fill":{"gradient":"linear","x1":0,"y1":0,"x2":0,"y2":1,"stops":[{"offset":0,"color":"rgba(60,130,60,0.6)"},{"offset":0.3,"color":"rgba(110,165,110,0.6)"},{"offset":0.52,"color":"rgba(215,222,215,0.85)"},{"offset":0.68,"color":"rgba(255,238,238,0.6)"},{"offset":1,"color":"rgba(255,130,130,0.85)"}]}},"encoding":{"y2":null}},
{"data":{"values":[{"slot":51.96,"pct":116,"pct2":116},{"slot":59.73,"pct":100,"pct2":116},{"slot":66.29,"pct":116,"pct2":116}]},"mark":{"type":"area","orient":"horizontal","stroke":"#1f3864","strokeWidth":3,"fill":{"gradient":"linear","x1":0,"y1":0,"x2":0,"y2":1,"stops":[{"offset":0,"color":"rgba(255,225,225,0.7)"},{"offset":1,"color":"rgba(255,125,125,0.95)"}]}},"encoding":{"y2":null}},
{"data":{"values":[{"pct":116,"slot":56.95,"slot2":61.2}]},"mark":{"type":"rule","color":"#ffa8a8","strokeWidth":5},"encoding":{"x2":null}},
{"data":{"values":[{"slot":17.79,"pct":-116,"pct2":-116},{"slot":19.32,"pct":-130,"pct2":-116},{"slot":21.1,"pct":-137.1,"pct2":-116},{"slot":22.37,"pct":-141.9,"pct2":-116},{"slot":24.15,"pct":-148.8,"pct2":-130},{"slot":27.3,"pct":-155.6,"pct2":-145.3},{"slot":29.84,"pct":-159.7,"pct2":-150.3},{"slot":31.32,"pct":-161.3,"pct2":-153.8},{"slot":34.06,"pct":-162.5,"pct2":-160},{"slot":36.15,"pct":-163.6,"pct2":-162.7},{"slot":39.86,"pct":-163.6,"pct2":-163.1},{"slot":42.81,"pct":-164.1,"pct2":-162.2},{"slot":46.01,"pct":-162.9,"pct2":-157.7},{"slot":48.04,"pct":-161.6,"pct2":-155.1},{"slot":50.74,"pct":-157.4,"pct2":-148.5},{"slot":51.75,"pct":-155.6,"pct2":-145.5},{"slot":53.64,"pct":-152,"pct2":-137.1},{"slot":55.31,"pct":-148,"pct2":-129.7},{"slot":56.94,"pct":-143.5,"pct2":-112.4},{"slot":57.6,"pct":-141.2,"pct2":-100},{"slot":59.74,"pct":-130.7,"pct2":-100},{"slot":61.52,"pct":-112.4,"pct2":-100},{"slot":62.23,"pct":-100.5,"pct2":-100}]},"mark":{"type":"area","orient":"horizontal","interpolate":"monotone","stroke":"#1f3864","strokeWidth":3,"fill":{"gradient":"linear","x1":0,"y1":0,"x2":0,"y2":1,"stops":[{"offset":0,"color":"rgba(126,180,126,0.6)"},{"offset":0.45,"color":"rgba(235,235,235,0.45)"},{"offset":0.6,"color":"rgba(235,150,150,0.45)"},{"offset":1,"color":"rgba(213,77,73,0.65)"}]}},"encoding":{"y2":null}},
{"data":{"values":[{"slot":13.01,"pct":-115.6,"pct2":-115.6},{"slot":19.42,"pct":-115.6,"pct2":-100},{"slot":27.15,"pct":-115.6,"pct2":-115.6}]},"mark":{"type":"area","orient":"horizontal","stroke":"#1f3864","strokeWidth":3,"fill":"rgba(126,180,126,0.6)"},"encoding":{"y2":null}},
{"data":{"values":[{"pct":-115.8,"slot":17.95,"slot2":22.2}]},"mark":{"type":"rule","color":"#74b074","strokeWidth":5.5},"encoding":{"x2":null}},
{"data":{"values":[{"pct":-157.9,"slot":19.7,"t":"STRENGTHENING"},{"pct":-157.9,"slot":60.6,"t":"WEAKENING"}]},"mark":{"type":"text","fontSize":27,"angle":270,"font":"Liberation Sans","fontStyle":"italic","color":"white","dy":0},"encoding":{"text":{"field":"t"},"x2":null,"y2":null}},
{"data":{"values":[{"pct":-133.6,"slot":-5.13,"t":"MARKET 6-PHASE"},{"pct":-133.6,"slot":-2.8,"t":"GAUGE"}]},"mark":{"type":"text","fontSize":34,"fontWeight":"bold","fontStyle":"italic","color":"#0000ff"},"encoding":{"text":{"field":"t"},"x2":null,"y2":null}},
{"data":{"values":[{"pct":0.2,"slot":-3.8,"t":"04/21/2026"}]},"mark":{"type":"text","fontSize":89.5,"fontWeight":"bold","color":"white","dy":6},"encoding":{"text":{"field":"t"},"x2":null,"y2":null}},
{"data":{"values":[{"pct":81.3,"slot":-3.8,"t":"Higher Risk"}]},"mark":{"type":"text","fontSize":36,"color":"white"},"encoding":{"text":{"field":"t"},"x2":null,"y2":null}},
{"data":{"values":[{"pct":-80,"slot":81.8,"t":"1.5% 16w"},{"pct":-40,"slot":81.8,"t":"0.1% 12w"},{"pct":0,"slot":81.8,"t":"0.7% 8w"},{"pct":40,"slot":81.8,"t":"6.4% 4w"},{"pct":-80,"slot":84.34,"t":"3.5% 16w"},{"pct":-40,"slot":84.34,"t":"3.4% 12w"},{"pct":0,"slot":84.34,"t":"7.2% 8w"},{"pct":40,"slot":84.34,"t":"9.5% 4w"},{"pct":-80,"slot":86.83,"t":"2.2% 16w"},{"pct":-40,"slot":86.83,"t":"2.1% 12w"},{"pct":0,"slot":86.83,"t":"3.3% 8w"},{"pct":40,"slot":86.83,"t":"7.3% 4w"}]},"mark":{"type":"text","fontSize":27.5,"color":"#006100","dy":1},"encoding":{"text":{"field":"t"},"x2":null,"y2":null}},
{"data":{"values":[{"pct":97.5,"slot":81.8,"t":"49,149","series":"DJ30"},{"pct":97.5,"slot":84.34,"t":"26,479","series":"Ns100"},{"pct":97.5,"slot":86.83,"t":"7,064","series":"SP500"}]},"mark":{"type":"text","fontSize":27,"fontWeight":"bold","align":"right","dy":1},"encoding":{"text":{"field":"t"},"x2":null,"y2":null,"color":{"field":"series","scale":{"domain":["DJ30","Ns100","SP500"],"range":["#0000ff","#7030a0","#008000"]},"legend":null}}},
{"data":{"values":[{"pct":104.4,"slot":81.8,"series":"DJ30"},{"pct":104.4,"slot":84.34,"series":"Ns100"},{"pct":104.4,"slot":86.83,"series":"SP500"}]},"mark":{"type":"text","fontSize":26,"fontWeight":"bold","align":"left","dy":1},"encoding":{"text":{"field":"series"},"x2":null,"y2":null,"color":{"field":"series","scale":{"domain":["DJ30","Ns100","SP500"],"range":["#0000ff","#7030a0","#008000"]},"legend":null}}}
]},
{"encoding":{"x":{"field":"col","type":"quantitative","scale":{"domain":[-91.2,18.09],"nice":false,"zero":false}},"x2":{"field":"col2"},"y":{"field":"row","type":"quantitative","scale":{"domain":[108.9,-0.994],"nice":false,"zero":false}},"y2":{"field":"row2"}},
"layer":[
{"data":{"values":[{"col":-0.4,"col2":9.84,"row":0,"row2":6.9}]},"mark":{"type":"rect","fill":"#3333ff"}},
{"data":{"values":[{"col":-0.66,"col2":9.62,"row":-0.5,"row2":6.7}]},"mark":{"type":"rect","fill":"white","stroke":"black","strokeWidth":4}},
{"data":{"values":[{"row":0,"col":0,"t":"4"},{"row":0,"col":1,"t":"@"},{"row":0,"col":2,"t":"0"},{"row":0,"col":3,"t":"<"},{"row":0,"col":4,"t":"3"},{"row":0,"col":5,"t":"K"},{"row":0,"col":6,"t":"L"},{"row":0,"col":7,"t":"D"},{"row":0,"col":8,"t":"e"},{"row":0,"col":9,"t":"8"},{"row":1,"col":5,"t":"<"},{"row":1,"col":6,"t":"."},{"row":1,"col":7,"t":"-"},{"row":1,"col":8,"t":"S"},{"row":1,"col":9,"t":"M"},{"row":2,"col":0,"t":"V"},{"row":2,"col":1,"t":"7"},{"row":2,"col":2,"t":"0"},{"row":2,"col":3,"t":"&"},{"row":2,"col":4,"t":"N"},{"row":2,"col":5,"t":"G"},{"row":2,"col":6,"t":"R"},{"row":2,"col":7,"t":"?"},{"row":2,"col":8,"t":"V"},{"row":2,"col":9,"t":"2"},{"row":3,"col":0,"t":"0"},{"row":3,"col":1,"t":"9"},{"row":3,"col":2,"t":"8"},{"row":3,"col":9,"t":"<"},{"row":4,"col":0,"t":"!"},{"row":4,"col":1,"t":"M"},{"row":4,"col":2,"t":"*"},{"row":4,"col":3,"t":"o"},{"row":4,"col":4,"t":"3"},{"row":4,"col":5,"t":">"},{"row":4,"col":6,"t":"8"},{"row":4,"col":7,"t":"9"},{"row":4,"col":8,"t":"#"},{"row":4,"col":9,"t":"X"},{"row":5,"col":0,"t":"!"},{"row":6,"col":0,"t":"4"},{"row":6,"col":1,"t":"@"},{"row":6,"col":2,"t":"0"},{"row":6,"col":3,"t":"L"},{"row":6,"col":4,"t":"D"},{"row":6,"col":5,"t":"h"},{"row":6,"col":6,"t":"M"},{"row":6,"col":7,"t":"!"},{"row":6,"col":8,"t":"S"},{"row":6,"col":9,"t":"Y"}]},"mark":{"type":"text","fontSize":13,"color":"#c8c8c8","dy":0},"encoding":{"text":{"field":"t"},"x2":null,"y2":null}},
{"data":{"values":[{"row":1,"col":0,"t":"S"},{"row":1,"col":1,"t":"T"},{"row":1,"col":2,"t":"O"},{"row":1,"col":3,"t":"C"},{"row":1,"col":4,"t":"K"},{"row":3,"col":3,"t":"M"},{"row":3,"col":4,"t":"A"},{"row":3,"col":5,"t":"R"},{"row":3,"col":6,"t":"K"},{"row":3,"col":7,"t":"E"},{"row":3,"col":8,"t":"T"},{"row":5,"col":1,"t":"O"},{"row":5,"col":2,"t":"R"},{"row":5,"col":3,"t":"G"},{"row":5,"col":4,"t":"A"},{"row":5,"col":5,"t":"N"},{"row":5,"col":6,"t":"I"},{"row":5,"col":7,"t":"Z"},{"row":5,"col":8,"t":"E"},{"row":5,"col":9,"t":"R"}]},"layer":[
{"mark":{"type":"rect","fill":"white","stroke":"black","strokeWidth":2.5,"xOffset":-8,"x2Offset":8,"yOffset":-8,"y2Offset":8},"encoding":{"x2":{"field":"col"},"y2":{"field":"row"}}},
{"mark":{"type":"text","fontSize":13,"fontWeight":"bold","color":"#0000ff","dy":0.5},"encoding":{"text":{"field":"t"},"x2":null,"y2":null}}]}
]}
]}
